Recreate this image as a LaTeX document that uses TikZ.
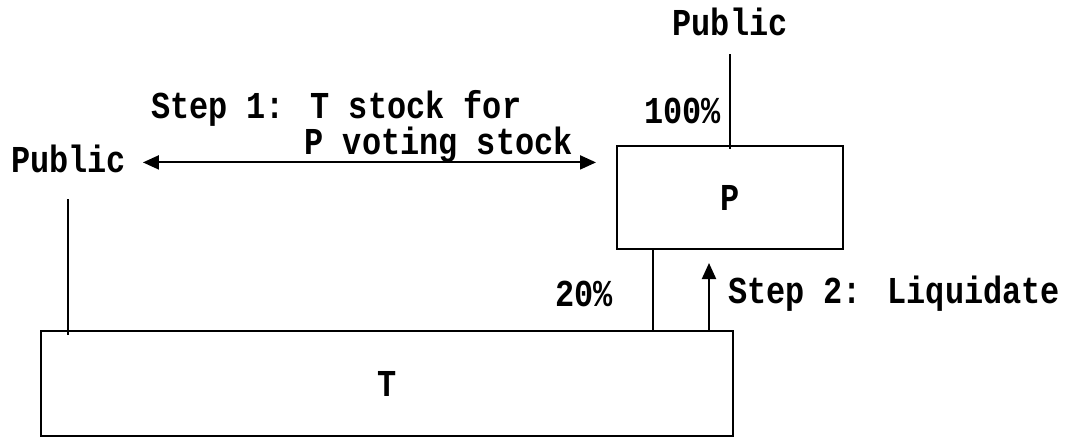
\documentclass[tikz,border=0pt]{standalone}
\usepackage{fontspec}
\usepackage{tikz}
\newfontfamily\diagfont{Liberation Mono}[FakeStretch=0.84]
\usetikzlibrary{arrows.meta}
\tikzstyle{empresa}=[draw=black, line width=2pt, rectangle, inner sep=0pt, font=\diagfont\bfseries\fontsize{38}{44}\selectfont]
\tikzstyle{rotulo}=[inner sep=0pt, font=\diagfont\bfseries\fontsize{38}{44}\selectfont]
\tikzstyle{seta}=[-{Triangle[length=16pt,width=14pt]}]
\tikzstyle{setadupla}=[{Triangle[length=16pt,width=14pt]}-{Triangle[length=16pt,width=14pt]}]

\begin{document}
\begin{tikzpicture}[x=1pt, y=-1pt, line width=2pt]
			\useasboundingbox (0,0) rectangle (1065,437);
			\node[empresa, minimum width=226pt, minimum height=103pt] (P) at (730,197.5) {P};
			\node[empresa, minimum width=692pt, minimum height=105pt] (T) at (387,383.5) {T};
			\node[rotulo, anchor=base] (pubtop) at (730,35) {Public};
			\node[rotulo, anchor=base west] (publeft) at (10,172) {Public};
			\node[rotulo, anchor=base west] (stepone) at (150,118) {Step 1: T stock for};
			\node[rotulo, anchor=base west] (steponeb) at (303.6,154) {P voting stock};
			\node[rotulo, anchor=base east] (pcem) at (722,123) {100\%};
			\node[rotulo, anchor=base east] (pvinte) at (614,306) {20\%};
			\node[rotulo, anchor=base west] (steptwo) at (727,303) {Step 2: Liquidate};
			\coordinate (liqtip) at (709,263);
			\draw[shorten <=18pt, shorten >=-4pt] (pubtop.south) -- (P.north);
			\draw[shorten <=26pt, shorten >=-5pt] (publeft.south) -- (publeft.south |- T.north);
			\draw[setadupla, shorten <=16pt, shorten >=20pt]
				([yshift=-4pt]publeft.east) -- ([yshift=-4pt]publeft.east -| P.west);
			\draw ([xshift=-77pt]P.south) -- ([xshift=-77pt]P.south |- T.north);
			\draw[seta] (liqtip |- T.north) -- (liqtip);
		\end{tikzpicture}
\end{document}
